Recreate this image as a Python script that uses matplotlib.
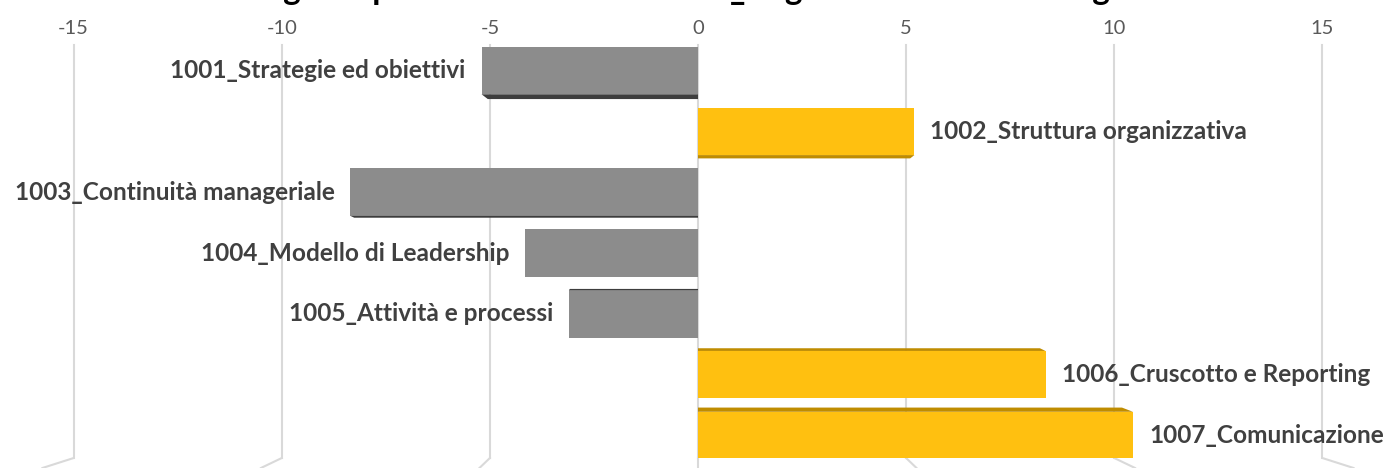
import numpy as np
import matplotlib
matplotlib.use('Agg')
import matplotlib.pyplot as plt
from matplotlib.patches import Polygon

plt.rcParams['font.family'] = ['Lato', 'DejaVu Sans']

# data
categories = ['1001_Strategie ed obiettivi', '1002_Struttura organizzativa',
              '1003_Continuità manageriale', '1004_Modello di Leadership',
              '1005_Attività e processi', '1006_Cruscotto e Reporting',
              '1007_Comunicazione']
values = [-5.2, 5.2, -8.35, -4.15, -3.1, 8.35, 10.45]
ticks = [-15, -10, -5, 0, 5, 10, 15]
title = 'Ranking complessivo delle aree 1000_Organizzazione e Management'

neg_col, neg_dark = '#8c8c8c', '#3d3d3d'
pos_col, pos_dark = '#ffc010', '#bf8c00'

W, H = 1386, 468
fig = plt.figure(figsize=(W / 100, H / 100), dpi=100)
ax = fig.add_axes([0, 1 - 458 / H, 1, (458 - 45) / H])

x0, x1 = -16.77, 16.53
ax.set_xlim(x0, x1)
ax.set_ylim(6.37, -0.42)
pxx = (x1 - x0) / W          # data units per pixel, x
pxy = (6.37 + 0.42) / 413    # data units per pixel, y

y = np.arange(len(categories))
h = 0.78
cols = [pos_col if v > 0 else neg_col for v in values]
ax.barh(y, values, height=h, color=cols, zorder=3)

# fake 3d side of the bars
for i, v in enumerate(values):
    t = 1.5 * (i - 3.2)          # px, <0 -> bottom face visible, >0 -> top face
    if abs(t) < 0.8:
        continue
    dark = pos_dark if v > 0 else neg_dark
    d = abs(t) * abs(v) * 0.25 * pxx * np.sign(v)
    if t < 0:
        ye = y[i] + h / 2
        yo = ye + abs(t) * pxy
    else:
        ye = y[i] - h / 2
        yo = ye - abs(t) * pxy
    poly = Polygon([[0, ye], [v, ye], [v - d, yo], [0, yo]], closed=True,
                   facecolor=dark, edgecolor='none', zorder=3)
    ax.add_patch(poly)

# grid lines with slanted floor
ybot = 6.37
for tk in ticks:
    ax.plot([tk, tk], [-0.42, ybot], color='#d9d9d9', lw=1.5, zorder=1, clip_on=False)
    ax.plot([tk, tk * 1.05], [ybot, ybot + 0.164], color='#d9d9d9', lw=1.5,
            zorder=1, clip_on=False)

# labels
for i, v in enumerate(values):
    off = 11.5 if v > 0 else -11.5
    ax.annotate(categories[i], (v, y[i]), xytext=(off, 0), textcoords='offset points',
                ha='left' if v > 0 else 'right', va='center', fontsize=17.6,
                fontweight='bold', color='#404040', zorder=4)

ax.xaxis.tick_top()
ax.set_xticks(ticks)
ax.set_xticklabels([str(t) for t in ticks])
ax.tick_params(axis='x', length=0, pad=6, labelsize=14.5, labelcolor='#595959')
ax.set_yticks([])
for s in ax.spines.values():
    s.set_visible(False)

# title sits mostly above the canvas, as in the original
fig.text(0.5, 1.0, title, ha='center', va='baseline', fontsize=24,
         fontweight='bold', color='black')

fig.savefig('out.png', dpi=100)
